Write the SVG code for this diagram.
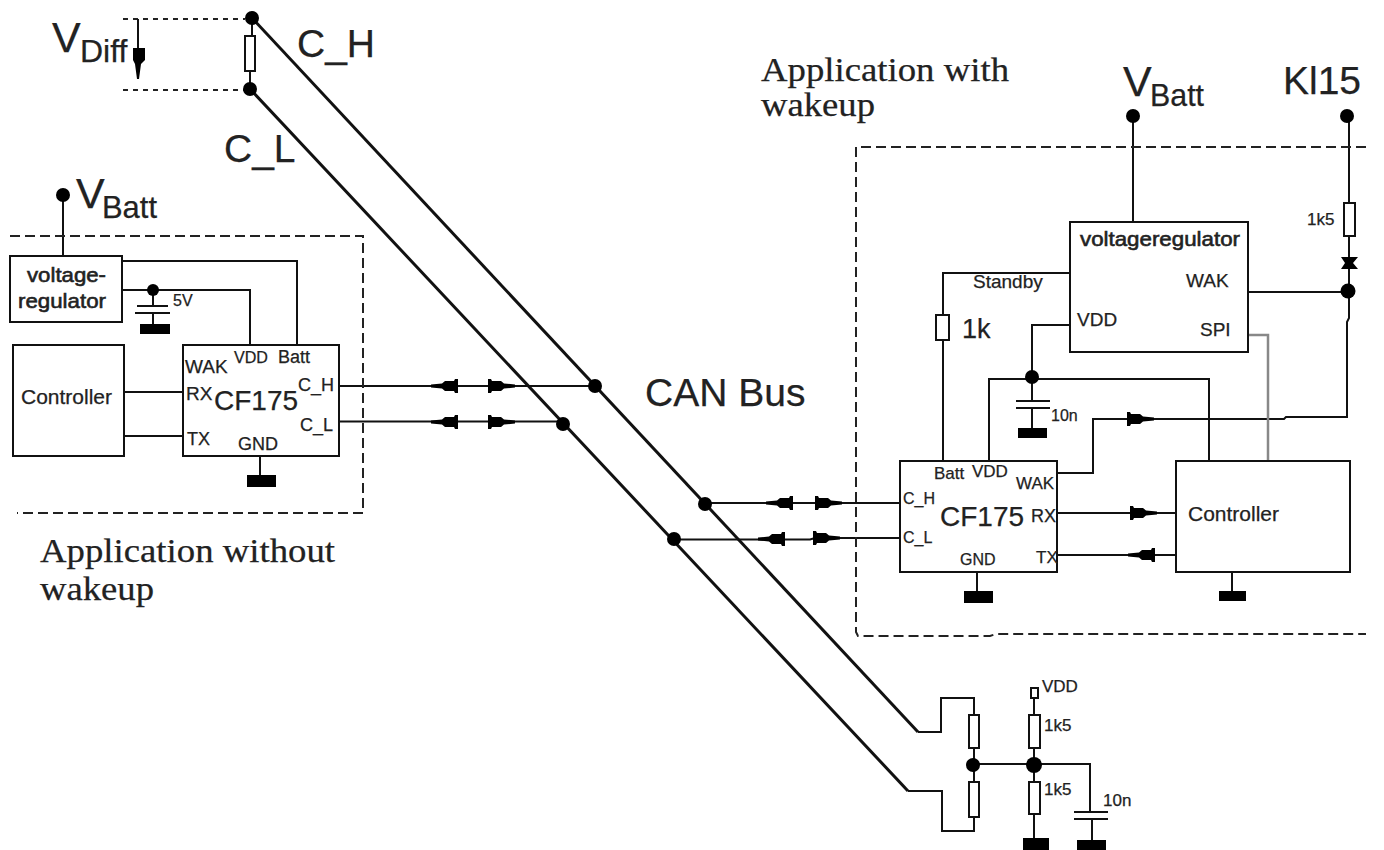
<svg xmlns="http://www.w3.org/2000/svg" width="1384" height="850" viewBox="0 0 1384 850">
<style>
text{font-family:"Liberation Sans",Arial,sans-serif;fill:#222;stroke:#222;stroke-width:.25}
.serif{font-family:"Liberation Serif","Times New Roman",serif}
.heavy{stroke-width:.6}
.box{fill:#fff;stroke:#111;stroke-width:2}
.w{fill:none;stroke:#111;stroke-width:2}
.bus{fill:none;stroke:#111;stroke-width:3}
.gray{fill:none;stroke:#888;stroke-width:2.500}
.dash{fill:none;stroke:#222;stroke-width:2;stroke-dasharray:10 5}
.dot2{fill:none;stroke:#222;stroke-width:2;stroke-dasharray:5 5}
.f{fill:#000;stroke:none}
.res{fill:#fff;stroke:#111;stroke-width:2}
.s17{font-size:17px}.s18{font-size:18px}.s19{font-size:19px}.s21{font-size:21px}
.s28{font-size:28px}.big{font-size:39px}.sub{font-size:32px}.ser{font-size:34px}
</style>
<defs>
<polygon id="ar" class="f" points="0,-7 3,-7 4,-5 13,-5 16,-2.500 27,-1.500 27,1.500 16,2.500 13,5 4,5 3,7 0,7"/>
<polygon id="al" class="f" points="0,-7 -3,-7 -4,-5 -13,-5 -16,-2.500 -27,-1.500 -27,1.500 -16,2.500 -13,5 -4,5 -3,7 0,7"/>
</defs>

<g id="connectors">
<path class="bus" d="M252 18L918 732"/>
<path class="bus" d="M250 89L908 791"/>
<path class="w" d="M918 732H941V698H974V715M908 791H942V831H974V817"/>
<path class="w" d="M252 18V36M250 71V89M974 748V782"/>
<path class="dot2" d="M123 19H245M123 90H245"/>
<path class="w" d="M138 19V79"/>
<polygon class="f" points="133,48 145,48 145,60 141,64 139,79 137,79 135,64 133,60"/>
<path class="w" d="M63 195V256M122 261H297V345M122 290H250V345"/>
<path class="w" d="M153 290V306M153 313V324M137 306H168M135 313H170"/>
<path class="w" d="M121 392H185M121 436H183M260 456V476"/>
<path class="w" d="M339 386H595M339 421.500H563"/>
<use href="#al" x="458" y="386"/><use href="#ar" x="488" y="386"/>
<use href="#al" x="458" y="422"/><use href="#ar" x="488" y="422"/>
<path class="w" d="M705 503H900M674 539.500H810L815 538H900"/>
<use href="#al" x="793" y="503"/><use href="#ar" x="815" y="503"/>
<use href="#al" x="785" y="539"/><use href="#ar" x="813" y="538"/>
<path class="w" d="M1133 116V222M1349 116V203M1349 236V258M1349 268V318L1347 322V417H1286L1284 419H1093V473H1057M1249 292H1348"/>
<use href="#ar" x="1127" y="419"/>
<path class="w" d="M1070 273H943V315M943 340V461M1070 325H1032V401M989 461V379H1209V461M1032 408V428M1016 401H1050M1016 408H1050"/>
<path class="gray" d="M1248 335H1268V461"/>
<path class="w" d="M1057 513H1176M1057 555H1176M977 572V592M1232 568V592"/>
<use href="#ar" x="1130" y="513"/><use href="#al" x="1155" y="555"/>
<path class="w" d="M973 764H1034H1090V811M1034 698V715M1034 748V782M1034 814V838M1092 819V840M1074 812H1108M1074 819H1108"/>
</g>

<g id="frames">
<path class="dash" d="M10 236H363V513H17"/>
<path class="dash" d="M1366 147H856V632L858 636H990L996 634H1366"/>
</g>

<g id="vdiff">
<circle class="f" cx="252" cy="18" r="7"/><circle class="f" cx="250" cy="89" r="7"/>
<rect class="res" x="245" y="36" width="10" height="35"/>
<text x="52" y="52" font-size="43">V</text><text x="80" y="62" class="sub">Diff</text>
<text x="297" y="57" class="big">C_H</text><text x="224" y="162" class="big">C_L</text>
</g>

<g id="vbatt-left">
<circle class="f" cx="63" cy="195" r="7"/>
<text x="76" y="208" font-size="43">V</text><text x="102" y="218" class="sub" textLength="55" lengthAdjust="spacingAndGlyphs">Batt</text>
</g>

<g id="regulator-left">
<rect class="box" x="10" y="256" width="112" height="66"/>
<text x="27" y="282" class="s21 heavy" textLength="79" lengthAdjust="spacingAndGlyphs">voltage-</text>
<text x="18" y="308" class="s21 heavy" textLength="88" lengthAdjust="spacingAndGlyphs">regulator</text>
</g>

<g id="cap-5v">
<circle class="f" cx="153" cy="290" r="6"/>
<rect class="f" x="140" y="324" width="30" height="10"/>
<text x="173" y="306" font-size="16">5V</text>
</g>

<g id="controller-left">
<rect class="box" x="13" y="345" width="111" height="111"/>
<text x="21" y="404" class="s21">Controller</text>
</g>

<g id="cf175-left">
<rect class="box" x="183" y="345" width="156" height="111"/>
<text x="185" y="373" class="s19">WAK</text>
<text x="234" y="363" class="s17" textLength="34" lengthAdjust="spacingAndGlyphs">VDD</text>
<text x="278" y="363" class="s18">Batt</text>
<text x="186" y="400" class="s19">RX</text>
<text x="187" y="445" class="s18">TX</text>
<text x="214" y="410" class="s28">CF175</text>
<text x="298" y="391" class="s18">C_H</text>
<text x="300" y="431" class="s18">C_L</text>
<text x="238" y="450" class="s18">GND</text>
<rect class="f" x="247" y="475" width="29" height="12"/>
</g>

<g id="labels">
<text x="761" y="81" class="serif ser" textLength="248" lengthAdjust="spacingAndGlyphs">Application with</text>
<text x="761" y="116" class="serif ser" textLength="114" lengthAdjust="spacingAndGlyphs">wakeup</text>
<text x="40" y="562" class="serif ser" textLength="295" lengthAdjust="spacingAndGlyphs">Application without</text>
<text x="40" y="600" class="serif ser" textLength="114" lengthAdjust="spacingAndGlyphs">wakeup</text>
<text x="645" y="406" class="big">CAN Bus</text>
</g>

<g id="junctions">
<circle class="f" cx="595" cy="386" r="7"/><circle class="f" cx="563" cy="424" r="7"/>
<circle class="f" cx="705" cy="504" r="7"/><circle class="f" cx="674" cy="539" r="7"/>
</g>

<g id="vbatt-right">
<circle class="f" cx="1133" cy="116" r="7"/>
<text x="1123" y="96" font-size="43">V</text><text x="1150" y="106" class="sub" textLength="54" lengthAdjust="spacingAndGlyphs">Batt</text>
</g>

<g id="kl15">
<circle class="f" cx="1347" cy="116" r="7"/>
<text x="1283" y="94" class="big">Kl15</text>
<rect class="res" x="1344" y="203" width="11" height="33"/>
<text x="1307" y="225" class="s17">1k5</text>
<polygon class="f" points="1341,257 1358,257 1353,263 1358,269 1341,269 1345,263"/>
<circle class="f" cx="1348" cy="291" r="7.500"/>
</g>

<g id="regulator-right">
<rect class="box" x="1070" y="222" width="178" height="130"/>
<text x="1080" y="246" class="s21 heavy" textLength="160" lengthAdjust="spacingAndGlyphs">voltageregulator</text>
<text x="1186" y="287" class="s19">WAK</text>
<text x="1200" y="336" class="s19">SPI</text>
<text x="1077" y="326" class="s19">VDD</text>
<text x="973" y="288" class="s19">Standby</text>
</g>

<g id="r-1k">
<rect class="res" x="936" y="315" width="13" height="25"/>
<text x="962" y="338" font-size="27">1k</text>
</g>

<g id="cap-10n">
<circle class="f" cx="1032" cy="377" r="7"/>
<rect class="f" x="1018" y="428" width="29" height="10"/>
<text x="1051" y="421" font-size="16">10n</text>
</g>

<g id="cf175-right">
<rect class="box" x="900" y="461" width="157" height="111"/>
<text x="934" y="479" class="s17">Batt</text>
<text x="972" y="477" class="s17">VDD</text>
<text x="1016" y="489" class="s17">WAK</text>
<text x="903" y="504" font-size="16">C_H</text>
<text x="903" y="543" font-size="16">C_L</text>
<text x="940" y="526" class="s28">CF175</text>
<text x="1031" y="522" class="s18">RX</text>
<text x="1036" y="563" class="s17">TX</text>
<text x="960" y="565" font-size="16">GND</text>
<rect class="f" x="964" y="591" width="29" height="12"/>
</g>

<g id="controller-right">
<rect class="box" x="1176" y="461" width="174" height="111"/>
<text x="1188" y="521" class="s21">Controller</text>
<rect class="f" x="1219" y="591" width="27" height="10"/>
</g>

<g id="termination">
<rect class="res" x="969" y="715" width="10" height="33"/>
<rect class="res" x="969" y="782" width="10" height="35"/>
<circle class="f" cx="973" cy="765" r="7"/>
<circle class="f" cx="1034" cy="765" r="8"/>
<rect class="res" x="1031" y="688" width="7" height="10"/>
<text x="1042" y="692" class="s17">VDD</text>
<rect class="res" x="1029" y="715" width="11" height="33"/>
<text x="1044" y="731" font-size="17">1k5</text>
<rect class="res" x="1029" y="782" width="11" height="32"/>
<text x="1044" y="795" font-size="17">1k5</text>
<text x="1103" y="806" font-size="17">10n</text>
<rect class="f" x="1023" y="838" width="26" height="12"/>
<rect class="f" x="1077" y="840" width="29" height="10"/>
</g>
</svg>
